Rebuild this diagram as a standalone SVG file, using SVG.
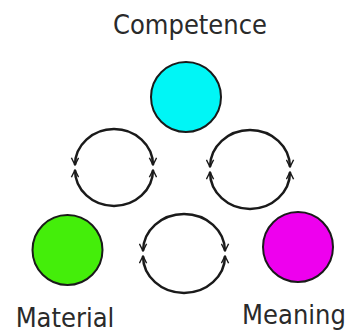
<svg xmlns="http://www.w3.org/2000/svg" width="350" height="334" viewBox="0 0 350 334">
<style>
.lbl{font-family:"DejaVu Sans Condensed","DejaVu Sans",sans-serif;font-size:27px;fill:#2a2a2a}
.node{stroke:#1a1a1a;stroke-width:2}
.loop{fill:none;stroke:#1a1a1a;stroke-width:2.5;marker-start:url(#ah);marker-end:url(#ah)}
</style>
<defs>
<marker id="ah" viewBox="0 0 10 10" refX="9" refY="5" markerWidth="9" markerHeight="9" markerUnits="userSpaceOnUse" orient="auto-start-reverse">
<path d="M1,1 L9,5 L1,9" fill="none" stroke="#1a1a1a" stroke-width="1.6"/>
</marker>
</defs>
<rect width="350" height="334" fill="#fff"/>
<g id="competence">
<circle class="node" cx="186" cy="97" r="35" fill="#00f6f6"/>
<text class="lbl" x="190" y="34" text-anchor="middle">Competence</text>
</g>
<g id="material">
<circle class="node" cx="67.5" cy="250" r="35" fill="#44ee0a"/>
<text class="lbl" x="65" y="327" text-anchor="middle">Material</text>
</g>
<g id="meaning">
<circle class="node" cx="298" cy="247" r="35" fill="#ee00ee"/>
<text class="lbl" x="294" y="324" text-anchor="middle">Meaning</text>
</g>
<g id="connectors">
<path class="loop" d="M75,165 A39,36 0 0 1 153,165"/>
<path class="loop" d="M75,170 A39,36 0 0 0 153,170"/>
<path class="loop" d="M210,167 A40,37 0 0 1 290,167"/>
<path class="loop" d="M210,172 A40,37 0 0 0 290,172"/>
<path class="loop" d="M143,251 A41,37 0 0 1 225,251"/>
<path class="loop" d="M143,256 A41,37 0 0 0 225,256"/>
</g>
</svg>
